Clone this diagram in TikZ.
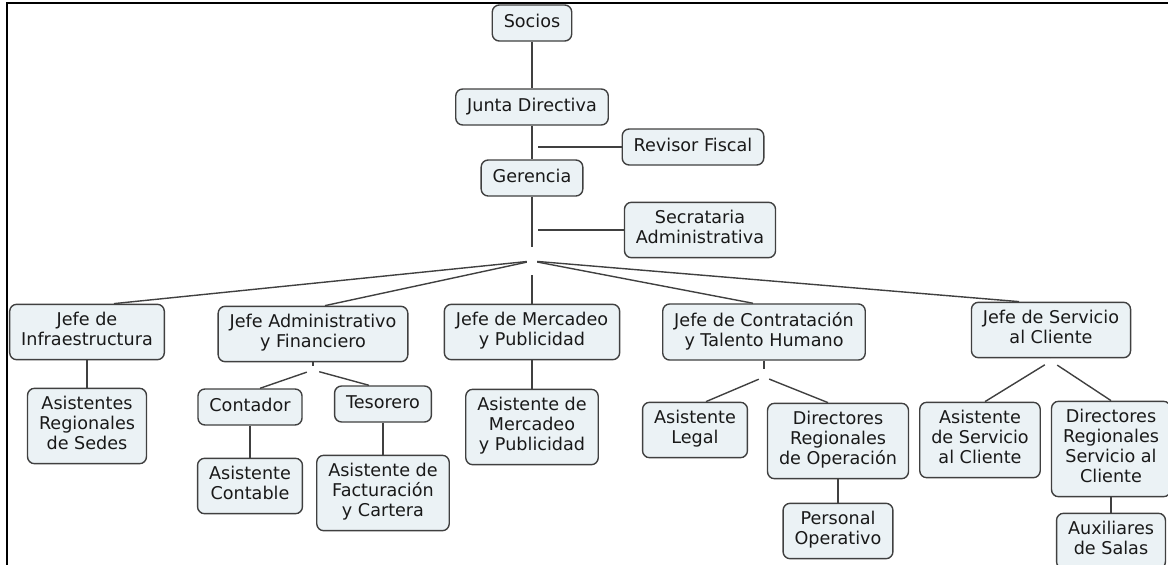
\documentclass[tikz,border=0pt]{standalone}
\usepackage{fontspec}
\setmainfont{DejaVu Sans}
\usetikzlibrary{calc}
\definecolor{conceptfill}{RGB}{235,242,245}
\definecolor{conceptline}{RGB}{64,64,64}

\begin{document}
\begin{tikzpicture}[x=1pt, y=-1pt,
    concept/.style={draw=conceptline, line width=1.4pt, fill=conceptfill, rounded corners=7pt,
        align=center, inner xsep=11.5pt, inner ysep=8pt, text=black!90,
        font=\fontsize{17.6}{20}\selectfont,
        execute at begin node=\strut, execute at end node=\strut},
    link/.style={draw=conceptline, line width=1.4pt},
    hub/.style 2 args={inner sep=0pt, minimum width=#1, minimum height=#2}]
    \useasboundingbox (0,0) rectangle (1168,565);

    \draw [line width=2.5pt] (7,565) -- (7,3) -- (1168,3);

    \node [concept] (socios) at (532, 23) {Socios};
    \node [concept] (junta) at (532, 107) {Junta Directiva};
    \node [hub={12pt}{0pt}] (revisorhub) at (532, 147) {};
    \node [concept] (revisor) at (693, 147) {Revisor Fiscal};
    \node [concept] (gerencia) at (532, 178) {Gerencia};
    \node [hub={12pt}{0pt}] (sechub) at (532, 230) {};
    \node [concept] (secretaria) at (700, 230) {Secrataria\\Administrativa};
    \node [hub={10pt}{28pt}] (jefeshub) at (532, 261) {};

    \node [concept] (infra) at (87, 332) {Jefe de\\Infraestructura};
    \node [concept] (admin) at (313, 334) {Jefe Administrativo\\y Financiero};
    \node [concept] (mercadeo) at (532, 332) {Jefe de Mercadeo\\y Publicidad};
    \node [concept] (contratacion) at (764, 332) {Jefe de Contratación\\y Talento Humano};
    \node [concept] (servicio) at (1051, 330) {Jefe de Servicio\\al Cliente};

    \node [concept] (asregionales) at (87, 426) {Asistentes\\Regionales\\de Sedes};
    \node [hub={12pt}{8pt}] (adminhub) at (313, 370) {};
    \node [concept] (contador) at (250, 407) {Contador};
    \node [concept] (tesorero) at (383, 404) {Tesorero};
    \node [concept] (ascontable) at (250, 486) {Asistente\\Contable};
    \node [concept] (asfacturacion) at (383, 493) {Asistente de\\Facturación\\y Cartera};
    \node [concept] (asmercadeo) at (532, 427) {Asistente de\\Mercadeo\\y Publicidad};
    \node [hub={10pt}{16pt}] (contrhub) at (764, 377) {};
    \node [concept] (aslegal) at (695, 430) {Asistente\\Legal};
    \node [concept] (diroperacion) at (838, 441) {Directores\\Regionales\\de Operación};
    \node [concept] (personal) at (838, 531) {Personal\\Operativo};
    \node [hub={12pt}{8pt}] (servhub) at (1051, 361) {};
    \node [concept] (asservicio) at (980, 440) {Asistente\\de Servicio\\al Cliente};
    \node [concept] (dirservicio) at (1111, 449) {Directores\\Regionales\\Servicio al\\Cliente};
    \node [concept] (auxiliares) at (1111, 541) {Auxiliares\\de Salas};

    \draw [link] (socios) -- (junta);
    \draw [link] (junta) -- (revisorhub) -- (gerencia);
    \draw [link] (revisorhub) -- (revisor);
    \draw [link] (gerencia) -- (sechub) -- (jefeshub);
    \draw [link] (sechub) -- (secretaria);
    \draw [link] (jefeshub) -- ($(infra.north)+(27,0)$);
    \draw [link] (jefeshub) -- ($(admin.north)+(12,0)$);
    \draw [link] (jefeshub) -- (mercadeo);
    \draw [link] (jefeshub) -- ($(contratacion.north)+(-11,0)$);
    \draw [link] (jefeshub) -- ($(servicio.north)+(-32,0)$);

    \draw [link] (infra) -- (asregionales);
    \draw [link] (admin) -- (adminhub);
    \draw [link] (adminhub) -- ($(contador.north)+(10,0)$);
    \draw [link] (adminhub) -- ($(tesorero.north)+(-14,0)$);
    \draw [link] (contador) -- (ascontable);
    \draw [link] (tesorero) -- (asfacturacion);
    \draw [link] (mercadeo) -- (asmercadeo);
    \draw [link] (contratacion) -- (contrhub);
    \draw [link] (contrhub) -- ($(aslegal.north)+(11,0)$);
    \draw [link] (contrhub) -- ($(diroperacion.north)+(-10,0)$);
    \draw [link] (diroperacion) -- (personal);
    \draw [link] (servicio) -- (servhub);
    \draw [link] (servhub) -- ($(asservicio.north)+(5,0)$);
    \draw [link] (servhub) -- (dirservicio.north);
    \draw [link] (dirservicio) -- (auxiliares);
\end{tikzpicture}
\end{document}
